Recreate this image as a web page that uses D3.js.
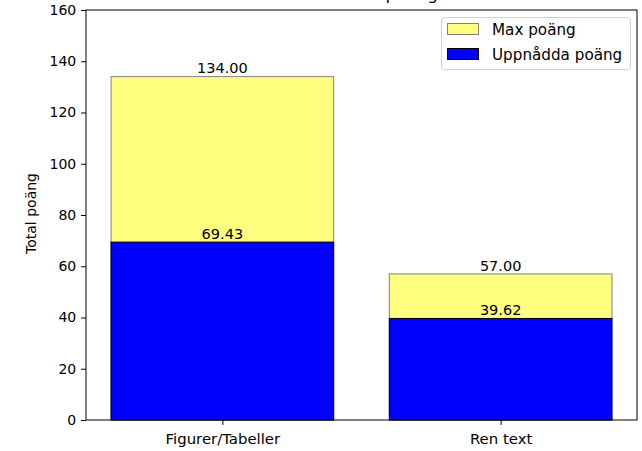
<!DOCTYPE html>
<html><head><meta charset="utf-8">
<script src="https://cdn.jsdelivr.net/npm/d3@7"></script>
<style>body{margin:0;background:#fff}svg{display:block}text{font-family:"DejaVu Sans",sans-serif}</style>
</head><body>
<svg id="c" width="642" height="451"></svg>
<script>
const categories = ["Figurer/Tabeller", "Ren text"];
const maxPoints = [134.00, 57.00];
const achievedPoints = [69.43, 39.62];
const yTicks = [0, 20, 40, 60, 80, 100, 120, 140, 160];
const seriesNames = ["Max poäng", "Uppnådda poäng"];
const titleText = "Översikt av poäng";
const yLabel = "Total poäng";

const svg = d3.select("#c");
const L = 86, R = 637, T = 10, B = 420;
const x = d3.scaleLinear().domain([-0.49, 1.49]).range([L, R]);
const y = d3.scaleLinear().domain([0, 160]).range([B, T]);
const bw = x(0.8) - x(0);

// title (mostly clipped at the top, as in the reference)
svg.append("text").attr("x", (L + R) / 2).attr("y", -0.5).attr("text-anchor", "middle")
  .attr("font-size", 16.7).text(titleText);

// max bars
svg.selectAll("rect.max").data(maxPoints).join("rect")
  .attr("x", (d, i) => x(i) - bw / 2).attr("y", d => y(d))
  .attr("width", bw).attr("height", d => y(0) - y(d))
  .attr("fill", "#ffff7f").attr("stroke", "#808080").attr("stroke-width", 1);
// achieved bars
svg.selectAll("rect.ach").data(achievedPoints).join("rect")
  .attr("x", (d, i) => x(i) - bw / 2).attr("y", d => y(d))
  .attr("width", bw).attr("height", d => y(0) - y(d))
  .attr("fill", "#0000ff").attr("stroke", "#000").attr("stroke-width", 1);

// value labels
[maxPoints, achievedPoints].forEach(arr => {
  svg.selectAll(null).data(arr).join("text")
    .attr("x", (d, i) => x(i)).attr("y", d => y(d) - 3.3)
    .attr("text-anchor", "middle").attr("font-size", 14.5).attr("fill", "#000")
    .text(d => d.toFixed(2));
});

// axes
const yAxis = d3.axisLeft(y).tickValues(yTicks).tickSize(4.9).tickPadding(4.9);
const gy = svg.append("g").attr("transform", `translate(${L},0)`).call(yAxis);
const xAxis = d3.axisBottom(x).tickValues([0, 1]).tickFormat(i => categories[i]).tickSize(4.9).tickPadding(4.9);
const gx = svg.append("g").attr("transform", `translate(0,${B})`).call(xAxis);
[gy, gx].forEach(g => {
  g.select(".domain").remove();
  g.selectAll("text").attr("font-family", "DejaVu Sans").attr("fill", "#000");
  g.selectAll("line").attr("stroke", "#000").attr("stroke-width", 1);
});
gy.selectAll("text").attr("font-size", 14);
gx.selectAll("text").attr("font-size", 14.9).attr("y", 24).attr("dy", null);

// frame
svg.append("rect").attr("x", L).attr("y", T).attr("width", R - L).attr("height", B - T)
  .attr("fill", "none").attr("stroke", "#000").attr("stroke-width", 1);

// y label
svg.append("text").attr("transform", `translate(36,${(T + B) / 2 - 1.5}) rotate(-90)`)
  .attr("text-anchor", "middle").attr("font-size", 14).text(yLabel);

// legend
const lg = svg.append("g");
lg.append("rect").attr("x", 441.5).attr("y", 17.5).attr("width", 189).attr("height", 52)
  .attr("rx", 3).attr("fill", "#fff").attr("fill-opacity", 0.8).attr("stroke", "#d0d0d0");
const lcol = [["#ffff7f", "#808080"], ["#0000ff", "#000"]];
seriesNames.forEach((n, i) => {
  lg.append("rect").attr("x", 447.5).attr("y", 23.5 + i * 25).attr("width", 31).attr("height", 11)
    .attr("fill", lcol[i][0]).attr("stroke", lcol[i][1]);
  lg.append("text").attr("x", 492).attr("y", 35 + i * 25).attr("font-size", 15.2).text(n);
});
</script>
</body></html>
